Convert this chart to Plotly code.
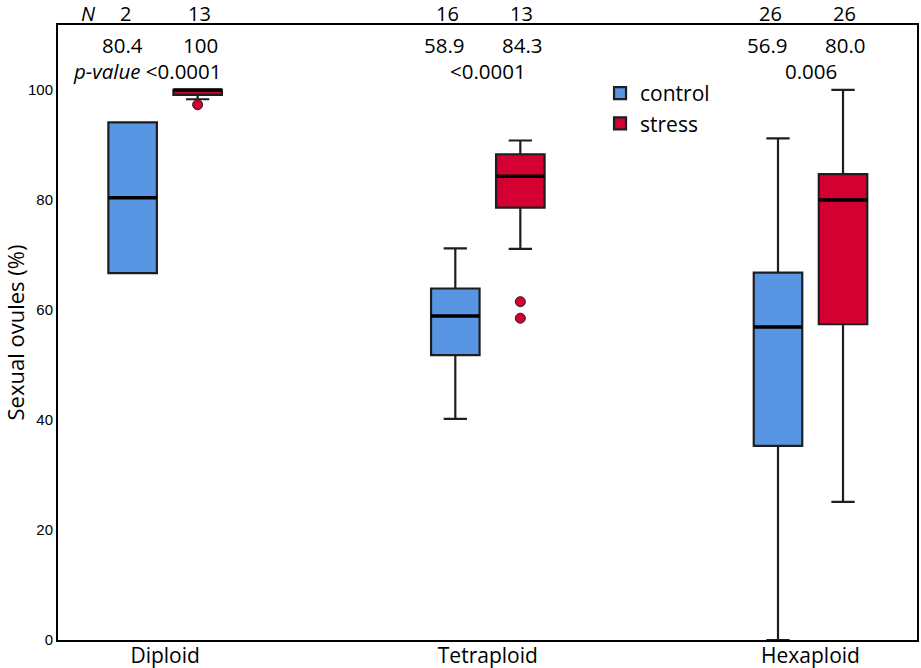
import plotly.graph_objects as go

# ploidy groups on the x axis
ploidy = ["Diploid", "Tetraploid", "Hexaploid"]

# box stats (sexual ovules, %)
ctrl_q1 = [66.7, 51.8, 35.3]
ctrl_med = [80.4, 58.9, 56.9]
ctrl_q3 = [94.1, 63.9, 66.8]
ctrl_lo = [66.7, 40.2, 0.0]
ctrl_hi = [94.1, 71.2, 91.2]

str_q1 = [99.1, 78.6, 57.4]
str_med = [100.0, 84.3, 80.0]
str_q3 = [100.0, 88.3, 84.7]
str_lo = [98.3, 71.1, 25.1]
str_hi = [100.0, 90.8, 100.0]
str_out = [[97.3], [61.5, 58.5], []]

# header texts
n_ctrl = ["2", "16", "26"]
n_str = ["13", "13", "26"]
med_ctrl_txt = ["80.4", "58.9", "56.9"]
med_str_txt = ["100", "84.3", "80.0"]
p_txt = ["<i>p-value</i> &lt;0.0001", "&lt;0.0001", "0.006"]

blue = "#5895e3"
red = "#d50032"
edge = "#1e1e1e"
txt_font = "Open Sans"

fig = go.Figure()

def add_group(name, color, q1, med, q3, lo, hi, out=None):
    fig.add_trace(go.Box(
        x=ploidy, y=out, q1=q1, median=med, q3=q3,
        lowerfence=lo, upperfence=hi,
        name=name, offsetgroup=name,
        fillcolor=color, line=dict(color=edge, width=2.2),
        whiskerwidth=0.48,
        boxpoints="outliers" if out else False, pointpos=0, jitter=0,
        marker=dict(color=color, size=10, line=dict(color=edge, width=1)),
    ))

def add_median(name, med):
    # thick median bar laid on top of the box
    fig.add_trace(go.Box(
        x=ploidy, q1=med, median=med, q3=med, lowerfence=med, upperfence=med,
        name=name, offsetgroup=name, showlegend=False, hoverinfo="skip",
        fillcolor="rgba(0,0,0,0)", line=dict(color="black", width=3.5),
        whiskerwidth=0,
    ))

add_group("control", blue, ctrl_q1, ctrl_med, ctrl_q3, ctrl_lo, ctrl_hi)
add_group("stress", red, str_q1, str_med, str_q3, str_lo, str_hi, str_out)
add_median("control", ctrl_med)
add_median("stress", str_med)

# N row above the frame, medians and p-values inside
f_ann = dict(size=20.5, family=txt_font, color="black")
f_top = dict(size=20, family=txt_font, color="black")
fig.add_annotation(x=ploidy[0], xref="x", y=1.018, yref="paper", yanchor="middle",
                   xshift=-77, text="<i>N</i>", showarrow=False, font=f_top)
for i, cat in enumerate(ploidy):
    for txt, shift in [(n_ctrl[i], -40), (n_str[i], 34)]:
        fig.add_annotation(x=cat, xref="x", y=1.018, yref="paper", yanchor="middle",
                           xshift=shift, text=txt, showarrow=False, font=f_top)
    for txt, shift in [(med_ctrl_txt[i], -43), (med_str_txt[i], 35)]:
        fig.add_annotation(x=cat, xref="x", y=108.2, yref="y", yanchor="middle",
                           xshift=shift, text=txt, showarrow=False, font=f_ann)
    fig.add_annotation(x=cat, xref="x", y=103.4, yref="y", yanchor="middle",
                       xshift=-18 if i == 0 else 0, text=p_txt[i], showarrow=False, font=f_ann)

fig.update_layout(
    width=921, height=668,
    margin=dict(l=58, r=4, t=25, b=28, autoexpand=False),
    plot_bgcolor="white", paper_bgcolor="white",
    boxmode="group", boxgap=0.597, boxgroupgap=0.254,
    showlegend=True,
    legend=dict(x=0.631, y=0.922, xanchor="left", yanchor="top",
                bgcolor="rgba(0,0,0,0)", font=dict(size=21, family=txt_font, color="black"),
                itemwidth=30, tracegroupgap=0),
)
fig.update_xaxes(
    type="category", range=[-0.332, 2.330], automargin=False,
    showline=True, linecolor="black", linewidth=2, mirror=True,
    showgrid=False, ticks="", zeroline=False, ticklabelstandoff=-4,
    tickfont=dict(size=21, family=txt_font, color="black"),
)
fig.update_yaxes(
    range=[0, 111.8], tickvals=[0, 20, 40, 60, 80, 100], automargin=False,
    showline=True, linecolor="black", linewidth=2, mirror=True,
    showgrid=False, ticks="", zeroline=False,
    tickfont=dict(size=15, family="Liberation Sans", color="black"),
    title=dict(text="Sexual ovules (%)", font=dict(size=22, family=txt_font, color="black"), standoff=4),
)

# drop the page's default body margin so the figure sits at the window corner
fig.write_html("out.html", config={"displayModeBar": False},
               post_script="document.body.style.margin='0';")
